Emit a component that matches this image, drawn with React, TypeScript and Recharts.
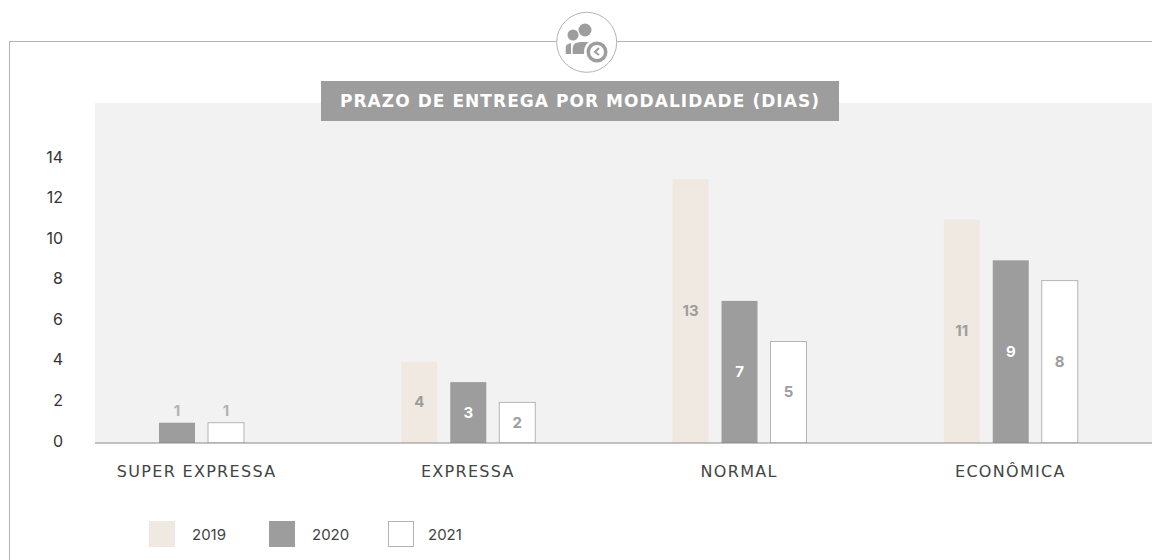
import { Bar, BarChart, CartesianGrid, Legend, XAxis, YAxis } from 'recharts'

const categories = ['SUPER EXPRESSA', 'EXPRESSA', 'NORMAL', 'ECONÔMICA']
const values2019 = [null, 4, 13, 11]
const values2020 = [1, 3, 7, 9]
const values2021 = [1, 2, 5, 8]
const yTicks = [0, 2, 4, 6, 8, 10, 12, 14]

const data = categories.map((name, i) => ({
  name, y2019: values2019[i], y2020: values2020[i], y2021: values2021[i],
}))

const FONT = 'Inter, sans-serif'
const WIDE = '"DejaVu Sans", sans-serif'
const GREY = '#9d9d9d'
const BEIGE = '#f0e9e1'
const LINE = '#b4b4b4'

// the group with no 2019 bar is moved left of its band centre
const MISSING_SHIFT = -20

function barShape(fill: string, stroke: string, labelColor: string) {
  return (props: any) => {
    const { x, y, width, height, value, payload } = props
    const bx = x + (payload.y2019 == null ? MISSING_SHIFT : 0)
    const above = value === 1
    return (
      <g>
        <rect x={bx} y={y} width={width} height={height} fill={fill} stroke={stroke} strokeWidth={stroke === 'none' ? 0 : 1} />
        <text
          x={bx + width / 2} y={above ? y - 11 : y + height / 2 + 1}
          textAnchor="middle" dominantBaseline="middle"
          fontFamily={FONT} fontSize={15} fontWeight={700}
          fill={above ? '#b2b2b2' : labelColor}
        >
          {value}
        </text>
      </g>
    )
  }
}

function YearLegend({ payload }: any) {
  return (
    <div style={{ position: 'relative', width: 330, height: 26, fontFamily: FONT, fontSize: 15, color: '#444' }}>
      {(payload ?? []).map((p: any, i: number) => (
        <div key={p.value} style={{ position: 'absolute', left: [0, 120, 239][i], top: 0, display: 'flex', alignItems: 'center' }}>
          <span style={{
            display: 'inline-block', boxSizing: 'border-box', width: 26, height: 26, background: p.color,
            border: p.value === '2021' ? `1px solid ${LINE}` : 'none',
          }} />
          <span style={{ marginLeft: p.value === '2021' ? 14 : 17 }}>{p.value}</span>
        </div>
      ))}
    </div>
  )
}

export default function App() {
  return (
    <div style={{ position: 'relative', width: 1152, height: 560, overflow: 'hidden', background: '#fff' }}>
      <style>{'body{margin:0}'}</style>
      <div style={{ position: 'absolute', left: 9, top: 41, width: 1143, height: 1, background: LINE }} />
      <div style={{ position: 'absolute', left: 9, top: 41, width: 1, height: 519, background: LINE }} />

      <div style={{ position: 'absolute', left: 0, top: 0 }}>
        <BarChart
          width={1152} height={560} data={data}
          margin={{ top: 103, right: 0, bottom: 0, left: 0 }}
          barSize={36} barGap={13}
        >
          <CartesianGrid horizontal={false} vertical={false} fill="#f2f2f2" />
          <XAxis
            dataKey="name" height={91} padding={{ left: -34, right: 6 }}
            tickLine={false} tickMargin={17} axisLine={{ stroke: '#8a8a8a' }}
            tick={{ fontFamily: WIDE, fontSize: 16, fill: '#444', letterSpacing: 1.3 }} interval={0}
          />
          <YAxis
            width={95} domain={[0, 16.75]} ticks={yTicks} allowDataOverflow
            axisLine={false} tickLine={false} tickMargin={26}
            tick={{ fontFamily: FONT, fontSize: 16, fill: '#333', dy: -2 }}
          />
          <Legend
            verticalAlign="bottom" align="left" height={0}
            wrapperStyle={{ left: 149, top: 521, bottom: 'auto', width: 330 }}
            content={<YearLegend />}
          />
          <Bar dataKey="y2019" name="2019" fill={BEIGE} isAnimationActive={false} shape={barShape(BEIGE, 'none', GREY)} />
          <Bar dataKey="y2020" name="2020" fill={GREY} isAnimationActive={false} shape={barShape(GREY, 'none', '#fff')} />
          <Bar dataKey="y2021" name="2021" fill="#fff" isAnimationActive={false} shape={barShape('#fff', LINE, GREY)} />
        </BarChart>
      </div>

      <div style={{
        position: 'absolute', left: 321, top: 81, width: 518, height: 40, background: GREY, color: '#fff',
        fontFamily: WIDE, fontSize: 17, fontWeight: 700, letterSpacing: 1.05,
        display: 'flex', alignItems: 'center', justifyContent: 'center',
      }}>
        PRAZO DE ENTREGA POR MODALIDADE (DIAS)
      </div>

      <svg style={{ position: 'absolute', left: 554, top: 10 }} width={66} height={66} viewBox="0 0 66 66">
        <circle cx={32.7} cy={32.3} r={30} fill="#fff" stroke={LINE} strokeWidth={1} />
        <circle cx={31} cy={20} r={6.5} fill={GREY} />
        <circle cx={19} cy={25} r={5.5} fill={GREY} />
        <path d="M11.7 44 V37 Q12 34 17 33 V44 Z" fill={GREY} />
        <path d="M18.7 44 V38 Q19 32 27 32 H38 Q43 32 44 36 V44 Z" fill={GREY} />
        <circle cx={43} cy={42} r={13} fill="#fff" />
        <circle cx={43} cy={42} r={10.5} fill={GREY} />
        <circle cx={43} cy={42} r={7} fill="#fff" />
        <path d="M45 38 L41 42 L45 45" fill="none" stroke={GREY} strokeWidth={2} />
      </svg>
    </div>
  )
}
